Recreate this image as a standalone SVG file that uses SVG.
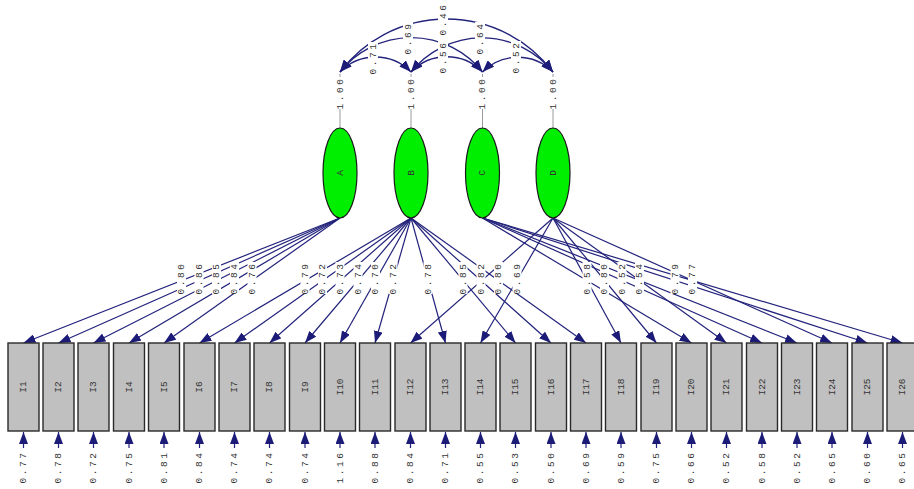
<svg xmlns="http://www.w3.org/2000/svg" width="914" height="489" viewBox="0 0 914 489">
<defs>
<marker id="ah" markerUnits="userSpaceOnUse" markerWidth="13" markerHeight="9" refX="12" refY="4.5" orient="auto-start-reverse">
<path d="M0,0 L12,4.5 L0,9 z" fill="#1c1c78"/>
</marker>
<style>
.cn{fill:none;stroke:#23237c;stroke-width:1.2;marker-end:url(#ah)}
.cv{fill:none;stroke:#23237c;stroke-width:1.3;marker-start:url(#ah);marker-end:url(#ah)}
.gv{stroke:#9a9a9a;stroke-width:1}
.bx{fill:#c0c0c0;stroke:#2a2a2a;stroke-width:1.4}
.lv{fill:#00ee00;stroke:#1a1a1a;stroke-width:1.2}
.t{font-family:"Liberation Mono","DejaVu Sans Mono",monospace;font-size:9.5px;fill:#333;text-anchor:middle;dominant-baseline:central}
.v{letter-spacing:2.6px}
.bg{fill:#fff}
</style>
</defs>
<rect width="914" height="489" fill="#fff"/>
<g id="connectors">
<path class="cv" d="M340,72 A49.5,49.5 0 0 1 411,72"/>
<path class="cv" d="M411,72 A49.5,49.5 0 0 1 482.5,72"/>
<path class="cv" d="M482.5,72 A49.5,49.5 0 0 1 553,72"/>
<path class="cv" d="M340,72 A91,91 0 0 1 482.5,72"/>
<path class="cv" d="M411,72 A91,91 0 0 1 553,72"/>
<path class="cv" d="M340,72 A133.5,133.5 0 0 1 553,72"/>
<line class="gv" x1="340" y1="74" x2="340" y2="128"/>
<line class="gv" x1="411" y1="74" x2="411" y2="128"/>
<line class="gv" x1="482.5" y1="74" x2="482.5" y2="128"/>
<line class="gv" x1="553" y1="74" x2="553" y2="128"/>
<line class="cn" x1="340" y1="218" x2="23.5" y2="343"/>
<line class="cn" x1="340" y1="218" x2="58.5" y2="343"/>
<line class="cn" x1="340" y1="218" x2="93.5" y2="343"/>
<line class="cn" x1="340" y1="218" x2="129" y2="343"/>
<line class="cn" x1="340" y1="218" x2="164" y2="343"/>
<line class="cn" x1="411" y1="218" x2="199.5" y2="343"/>
<line class="cn" x1="411" y1="218" x2="234.5" y2="343"/>
<line class="cn" x1="411" y1="218" x2="269.5" y2="343"/>
<line class="cn" x1="411" y1="218" x2="305" y2="343"/>
<line class="cn" x1="411" y1="218" x2="340" y2="343"/>
<line class="cn" x1="411" y1="218" x2="375" y2="343"/>
<line class="cn" x1="411" y1="218" x2="445.5" y2="343"/>
<line class="cn" x1="411" y1="218" x2="515.5" y2="343"/>
<line class="cn" x1="411" y1="218" x2="551" y2="343"/>
<line class="cn" x1="411" y1="218" x2="586" y2="343"/>
<line class="cn" x1="553" y1="218" x2="410.5" y2="343"/>
<line class="cn" x1="553" y1="218" x2="480.5" y2="343"/>
<line class="cn" x1="553" y1="218" x2="621" y2="343"/>
<line class="cn" x1="553" y1="218" x2="656.5" y2="343"/>
<line class="cn" x1="553" y1="218" x2="726.5" y2="343"/>
<line class="cn" x1="553" y1="218" x2="832" y2="343"/>
<line class="cn" x1="482.5" y1="218" x2="691.5" y2="343"/>
<line class="cn" x1="482.5" y1="218" x2="762" y2="343"/>
<line class="cn" x1="482.5" y1="218" x2="797" y2="343"/>
<line class="cn" x1="482.5" y1="218" x2="867.5" y2="343"/>
<line class="cn" x1="482.5" y1="218" x2="902.5" y2="343"/>
<line class="cn" x1="23.5" y1="448" x2="23.5" y2="432"/>
<line class="cn" x1="58.5" y1="448" x2="58.5" y2="432"/>
<line class="cn" x1="93.5" y1="448" x2="93.5" y2="432"/>
<line class="cn" x1="129" y1="448" x2="129" y2="432"/>
<line class="cn" x1="164" y1="448" x2="164" y2="432"/>
<line class="cn" x1="199.5" y1="448" x2="199.5" y2="432"/>
<line class="cn" x1="234.5" y1="448" x2="234.5" y2="432"/>
<line class="cn" x1="269.5" y1="448" x2="269.5" y2="432"/>
<line class="cn" x1="305" y1="448" x2="305" y2="432"/>
<line class="cn" x1="340" y1="448" x2="340" y2="432"/>
<line class="cn" x1="375" y1="448" x2="375" y2="432"/>
<line class="cn" x1="410.5" y1="448" x2="410.5" y2="432"/>
<line class="cn" x1="445.5" y1="448" x2="445.5" y2="432"/>
<line class="cn" x1="480.5" y1="448" x2="480.5" y2="432"/>
<line class="cn" x1="515.5" y1="448" x2="515.5" y2="432"/>
<line class="cn" x1="551" y1="448" x2="551" y2="432"/>
<line class="cn" x1="586" y1="448" x2="586" y2="432"/>
<line class="cn" x1="621" y1="448" x2="621" y2="432"/>
<line class="cn" x1="656.5" y1="448" x2="656.5" y2="432"/>
<line class="cn" x1="691.5" y1="448" x2="691.5" y2="432"/>
<line class="cn" x1="726.5" y1="448" x2="726.5" y2="432"/>
<line class="cn" x1="762" y1="448" x2="762" y2="432"/>
<line class="cn" x1="797" y1="448" x2="797" y2="432"/>
<line class="cn" x1="832" y1="448" x2="832" y2="432"/>
<line class="cn" x1="867.5" y1="448" x2="867.5" y2="432"/>
<line class="cn" x1="902.5" y1="448" x2="902.5" y2="432"/>
</g>
<g id="cov-labels">
<g transform="translate(373,58) rotate(-90)"><rect class="bg" x="-16" y="-5" width="32" height="10"/><text class="t v">0.71</text></g>
<g transform="translate(408,38) rotate(-90)"><rect class="bg" x="-16" y="-5" width="32" height="10"/><text class="t v">0.69</text></g>
<g transform="translate(443,19) rotate(-90)"><rect class="bg" x="-16" y="-5" width="32" height="10"/><text class="t v">0.46</text></g>
<g transform="translate(443,57) rotate(-90)"><rect class="bg" x="-16" y="-5" width="32" height="10"/><text class="t v">0.56</text></g>
<g transform="translate(480,38) rotate(-90)"><rect class="bg" x="-16" y="-5" width="32" height="10"/><text class="t v">0.64</text></g>
<g transform="translate(516,57) rotate(-90)"><rect class="bg" x="-16" y="-5" width="32" height="10"/><text class="t v">0.52</text></g>
<g transform="translate(340,93) rotate(-90)"><rect class="bg" x="-16" y="-5" width="32" height="10"/><text class="t v">1.00</text></g>
<g transform="translate(411,93) rotate(-90)"><rect class="bg" x="-16" y="-5" width="32" height="10"/><text class="t v">1.00</text></g>
<g transform="translate(482.5,93) rotate(-90)"><rect class="bg" x="-16" y="-5" width="32" height="10"/><text class="t v">1.00</text></g>
<g transform="translate(553,93) rotate(-90)"><rect class="bg" x="-16" y="-5" width="32" height="10"/><text class="t v">1.00</text></g>
</g>
<g id="A"><ellipse class="lv" cx="340" cy="173" rx="17" ry="45"/><text class="t" transform="translate(340,173) rotate(-90)">A</text></g>
<g id="B"><ellipse class="lv" cx="411" cy="173" rx="17" ry="45"/><text class="t" transform="translate(411,173) rotate(-90)">B</text></g>
<g id="C"><ellipse class="lv" cx="482.5" cy="173" rx="17" ry="45"/><text class="t" transform="translate(482.5,173) rotate(-90)">C</text></g>
<g id="D"><ellipse class="lv" cx="553" cy="173" rx="17" ry="45"/><text class="t" transform="translate(553,173) rotate(-90)">D</text></g>
<g id="loading-labels">
<g transform="translate(181.5,278) rotate(-90)"><rect class="bg" x="-16" y="-4.5" width="32" height="9"/><text class="t v">0.80</text></g>
<g transform="translate(199,278) rotate(-90)"><rect class="bg" x="-16" y="-4.5" width="32" height="9"/><text class="t v">0.86</text></g>
<g transform="translate(216.5,278) rotate(-90)"><rect class="bg" x="-16" y="-4.5" width="32" height="9"/><text class="t v">0.85</text></g>
<g transform="translate(234.5,278) rotate(-90)"><rect class="bg" x="-16" y="-4.5" width="32" height="9"/><text class="t v">0.84</text></g>
<g transform="translate(252,278) rotate(-90)"><rect class="bg" x="-16" y="-4.5" width="32" height="9"/><text class="t v">0.76</text></g>
<g transform="translate(305,278) rotate(-90)"><rect class="bg" x="-16" y="-4.5" width="32" height="9"/><text class="t v">0.79</text></g>
<g transform="translate(322.5,278) rotate(-90)"><rect class="bg" x="-16" y="-4.5" width="32" height="9"/><text class="t v">0.72</text></g>
<g transform="translate(340,278) rotate(-90)"><rect class="bg" x="-16" y="-4.5" width="32" height="9"/><text class="t v">0.73</text></g>
<g transform="translate(358,278) rotate(-90)"><rect class="bg" x="-16" y="-4.5" width="32" height="9"/><text class="t v">0.74</text></g>
<g transform="translate(375.5,278) rotate(-90)"><rect class="bg" x="-16" y="-4.5" width="32" height="9"/><text class="t v">0.70</text></g>
<g transform="translate(393,278) rotate(-90)"><rect class="bg" x="-16" y="-4.5" width="32" height="9"/><text class="t v">0.72</text></g>
<g transform="translate(428,278) rotate(-90)"><rect class="bg" x="-16" y="-4.5" width="32" height="9"/><text class="t v">0.78</text></g>
<g transform="translate(463,278) rotate(-90)"><rect class="bg" x="-16" y="-4.5" width="32" height="9"/><text class="t v">0.85</text></g>
<g transform="translate(481,278) rotate(-90)"><rect class="bg" x="-16" y="-4.5" width="32" height="9"/><text class="t v">0.82</text></g>
<g transform="translate(498.5,278) rotate(-90)"><rect class="bg" x="-16" y="-4.5" width="32" height="9"/><text class="t v">0.80</text></g>
<g transform="translate(517,278) rotate(-90)"><rect class="bg" x="-16" y="-4.5" width="32" height="9"/><text class="t v">0.69</text></g>
<g transform="translate(587,278) rotate(-90)"><rect class="bg" x="-16" y="-4.5" width="32" height="9"/><text class="t v">0.58</text></g>
<g transform="translate(604.5,278) rotate(-90)"><rect class="bg" x="-16" y="-4.5" width="32" height="9"/><text class="t v">0.80</text></g>
<g transform="translate(622,278) rotate(-90)"><rect class="bg" x="-16" y="-4.5" width="32" height="9"/><text class="t v">0.52</text></g>
<g transform="translate(639.5,278) rotate(-90)"><rect class="bg" x="-16" y="-4.5" width="32" height="9"/><text class="t v">0.54</text></g>
<g transform="translate(675,278) rotate(-90)"><rect class="bg" x="-16" y="-4.5" width="32" height="9"/><text class="t v">0.79</text></g>
<g transform="translate(692.5,278) rotate(-90)"><rect class="bg" x="-16" y="-4.5" width="32" height="9"/><text class="t v">0.77</text></g>
</g>
<g id="I1"><rect class="bx" x="8" y="343" width="31" height="88"/><text class="t" transform="translate(23.5,387) rotate(-90)">I1</text><text class="t v" transform="translate(23.5,467) rotate(-90)">0.77</text></g>
<g id="I2"><rect class="bx" x="43" y="343" width="31" height="88"/><text class="t" transform="translate(58.5,387) rotate(-90)">I2</text><text class="t v" transform="translate(58.5,467) rotate(-90)">0.78</text></g>
<g id="I3"><rect class="bx" x="78" y="343" width="31" height="88"/><text class="t" transform="translate(93.5,387) rotate(-90)">I3</text><text class="t v" transform="translate(93.5,467) rotate(-90)">0.72</text></g>
<g id="I4"><rect class="bx" x="113.5" y="343" width="31" height="88"/><text class="t" transform="translate(129,387) rotate(-90)">I4</text><text class="t v" transform="translate(129,467) rotate(-90)">0.75</text></g>
<g id="I5"><rect class="bx" x="148.5" y="343" width="31" height="88"/><text class="t" transform="translate(164,387) rotate(-90)">I5</text><text class="t v" transform="translate(164,467) rotate(-90)">0.81</text></g>
<g id="I6"><rect class="bx" x="184" y="343" width="31" height="88"/><text class="t" transform="translate(199.5,387) rotate(-90)">I6</text><text class="t v" transform="translate(199.5,467) rotate(-90)">0.84</text></g>
<g id="I7"><rect class="bx" x="219" y="343" width="31" height="88"/><text class="t" transform="translate(234.5,387) rotate(-90)">I7</text><text class="t v" transform="translate(234.5,467) rotate(-90)">0.74</text></g>
<g id="I8"><rect class="bx" x="254" y="343" width="31" height="88"/><text class="t" transform="translate(269.5,387) rotate(-90)">I8</text><text class="t v" transform="translate(269.5,467) rotate(-90)">0.74</text></g>
<g id="I9"><rect class="bx" x="289.5" y="343" width="31" height="88"/><text class="t" transform="translate(305,387) rotate(-90)">I9</text><text class="t v" transform="translate(305,467) rotate(-90)">0.74</text></g>
<g id="I10"><rect class="bx" x="324.5" y="343" width="31" height="88"/><text class="t" transform="translate(340,387) rotate(-90)">I10</text><text class="t v" transform="translate(340,467) rotate(-90)">1.16</text></g>
<g id="I11"><rect class="bx" x="359.5" y="343" width="31" height="88"/><text class="t" transform="translate(375,387) rotate(-90)">I11</text><text class="t v" transform="translate(375,467) rotate(-90)">0.88</text></g>
<g id="I12"><rect class="bx" x="395" y="343" width="31" height="88"/><text class="t" transform="translate(410.5,387) rotate(-90)">I12</text><text class="t v" transform="translate(410.5,467) rotate(-90)">0.84</text></g>
<g id="I13"><rect class="bx" x="430" y="343" width="31" height="88"/><text class="t" transform="translate(445.5,387) rotate(-90)">I13</text><text class="t v" transform="translate(445.5,467) rotate(-90)">0.71</text></g>
<g id="I14"><rect class="bx" x="465" y="343" width="31" height="88"/><text class="t" transform="translate(480.5,387) rotate(-90)">I14</text><text class="t v" transform="translate(480.5,467) rotate(-90)">0.55</text></g>
<g id="I15"><rect class="bx" x="500" y="343" width="31" height="88"/><text class="t" transform="translate(515.5,387) rotate(-90)">I15</text><text class="t v" transform="translate(515.5,467) rotate(-90)">0.53</text></g>
<g id="I16"><rect class="bx" x="535.5" y="343" width="31" height="88"/><text class="t" transform="translate(551,387) rotate(-90)">I16</text><text class="t v" transform="translate(551,467) rotate(-90)">0.50</text></g>
<g id="I17"><rect class="bx" x="570.5" y="343" width="31" height="88"/><text class="t" transform="translate(586,387) rotate(-90)">I17</text><text class="t v" transform="translate(586,467) rotate(-90)">0.69</text></g>
<g id="I18"><rect class="bx" x="605.5" y="343" width="31" height="88"/><text class="t" transform="translate(621,387) rotate(-90)">I18</text><text class="t v" transform="translate(621,467) rotate(-90)">0.59</text></g>
<g id="I19"><rect class="bx" x="641" y="343" width="31" height="88"/><text class="t" transform="translate(656.5,387) rotate(-90)">I19</text><text class="t v" transform="translate(656.5,467) rotate(-90)">0.75</text></g>
<g id="I20"><rect class="bx" x="676" y="343" width="31" height="88"/><text class="t" transform="translate(691.5,387) rotate(-90)">I20</text><text class="t v" transform="translate(691.5,467) rotate(-90)">0.66</text></g>
<g id="I21"><rect class="bx" x="711" y="343" width="31" height="88"/><text class="t" transform="translate(726.5,387) rotate(-90)">I21</text><text class="t v" transform="translate(726.5,467) rotate(-90)">0.52</text></g>
<g id="I22"><rect class="bx" x="746.5" y="343" width="31" height="88"/><text class="t" transform="translate(762,387) rotate(-90)">I22</text><text class="t v" transform="translate(762,467) rotate(-90)">0.58</text></g>
<g id="I23"><rect class="bx" x="781.5" y="343" width="31" height="88"/><text class="t" transform="translate(797,387) rotate(-90)">I23</text><text class="t v" transform="translate(797,467) rotate(-90)">0.52</text></g>
<g id="I24"><rect class="bx" x="816.5" y="343" width="31" height="88"/><text class="t" transform="translate(832,387) rotate(-90)">I24</text><text class="t v" transform="translate(832,467) rotate(-90)">0.65</text></g>
<g id="I25"><rect class="bx" x="852" y="343" width="31" height="88"/><text class="t" transform="translate(867.5,387) rotate(-90)">I25</text><text class="t v" transform="translate(867.5,467) rotate(-90)">0.60</text></g>
<g id="I26"><rect class="bx" x="887" y="343" width="31" height="88"/><text class="t" transform="translate(902.5,387) rotate(-90)">I26</text><text class="t v" transform="translate(902.5,467) rotate(-90)">0.65</text></g>
</svg>
